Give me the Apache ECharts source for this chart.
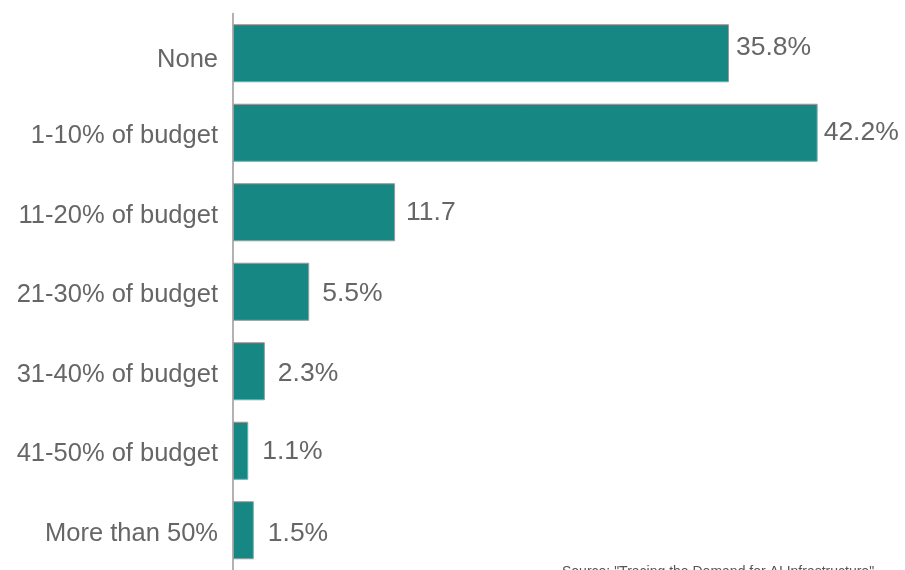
<!DOCTYPE html>
<html>
<head>
<meta charset="utf-8">
<script src="https://cdn.jsdelivr.net/npm/echarts@6/dist/echarts.min.js"></script>
<style>
  html, body { margin: 0; padding: 0; background: #fff; }
  #chart { width: 905px; height: 570px; }
</style>
</head>
<body>
<div id="chart"></div>
<script>
// Share of budget spent, by bracket
const categories = [
  'None',
  '1-10% of budget',
  '11-20% of budget',
  '21-30% of budget',
  '31-40% of budget',
  '41-50% of budget',
  'More than 50%'
];
const values = [35.8, 42.2, 11.7, 5.5, 2.3, 1.1, 1.5];
const valueLabels = ['35.8%', '42.2%', '11.7', '5.5%', '2.3%', '1.1%', '1.5%'];
const sourceNote = 'Source: "Tracing the Demand for AI Infrastructure"';

// small per-bar label nudges [dx, dy]
const labelNudge = [[-4, -6], [-5, 0], [0, 0], [2, 2], [2, 2], [3, 1], [3, 3]];

const chart = echarts.init(document.getElementById('chart'), null, { renderer: 'canvas' });

const fontFamily = '"Liberation Sans", Arial, sans-serif';
const catText = { color: '#666666', fontSize: 25.5, fontFamily: fontFamily };

chart.setOption({
  animation: false,
  grid: { left: 233, top: 13.5, width: 665, height: 560, containLabel: false },
  xAxis: {
    type: 'value',
    min: 0,
    max: 48,
    show: false
  },
  yAxis: {
    type: 'category',
    data: categories,
    inverse: true,
    axisLine: { show: true, lineStyle: { color: '#999999', width: 1.5 } },
    axisTick: { show: false },
    axisLabel: {
      margin: 15,
      formatter: (v, i) => (i === 0 ? '{top|' + v + '}' : '{row|' + v + '}'),
      rich: {
        top: Object.assign({ padding: [14, 0, 0, 0] }, catText),
        row: Object.assign({ padding: [7, 0, 0, 0] }, catText)
      }
    }
  },
  series: [{
    type: 'bar',
    barCategoryGap: '27%',
    data: values.map((v, i) => ({
      value: v,
      label: {
        formatter: valueLabels[i],
        offset: labelNudge[i]
      }
    })),
    itemStyle: {
      color: '#178783',
      borderColor: '#9a9a9a',
      borderWidth: 1
    },
    label: {
      show: true,
      position: 'right',
      distance: 11,
      color: '#666666',
      fontSize: 26.5,
      fontFamily: fontFamily
    }
  }],
  graphic: [{
    type: 'text',
    left: 562,
    top: 565,
    style: {
      text: sourceNote,
      fill: '#555555',
      font: '14px ' + fontFamily
    }
  }]
});
</script>
</body>
</html>
